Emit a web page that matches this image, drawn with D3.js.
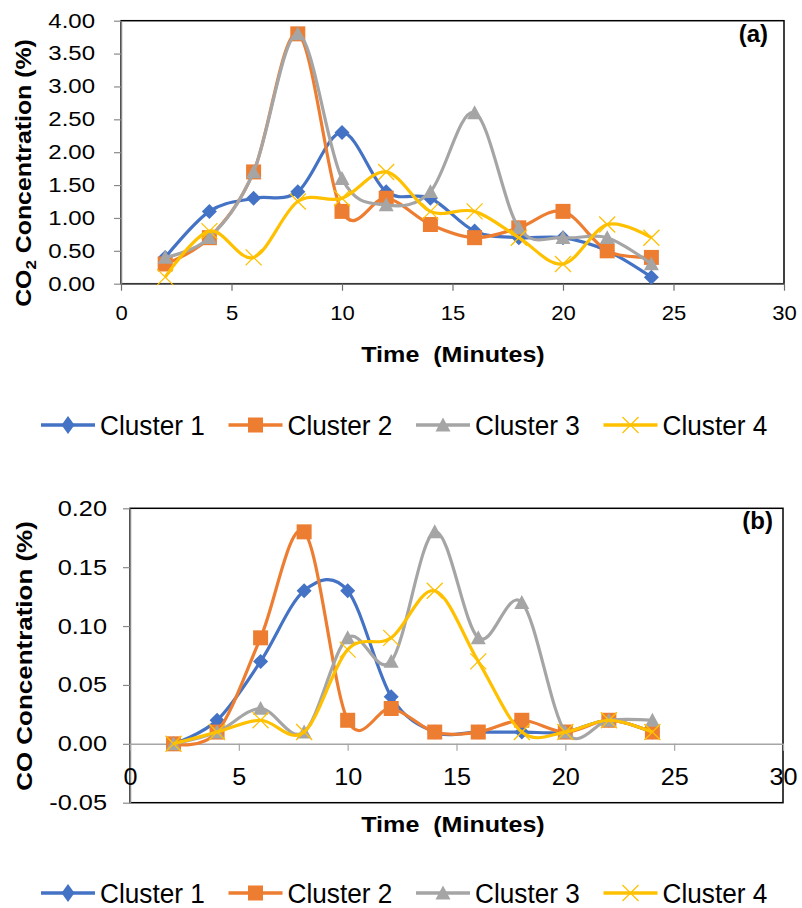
<!DOCTYPE html>
<html>
<head>
<meta charset="utf-8">
<script src="https://cdn.jsdelivr.net/npm/d3@7"></script>
<style>
  body { margin: 0; background: #fff; }
  text { font-family: "Liberation Sans", Arial, sans-serif; }
</style>
</head>
<body>
<div id="chart"></div>
<script>
// values
const times = [2, 4, 6, 8, 10, 12, 14, 16, 18, 20, 22, 24];
const clusterNames = ["Cluster 1", "Cluster 2", "Cluster 3", "Cluster 4"];

const co2Cluster1 = [0.4, 1.1, 1.3, 1.4, 2.3, 1.4, 1.3, 0.8, 0.7, 0.7, 0.5, 0.1];
const co2Cluster2 = [0.3, 0.7, 1.7, 3.8, 1.1, 1.3, 0.9, 0.7, 0.85, 1.1, 0.5, 0.4];
const co2Cluster3 = [0.4, 0.7, 1.7, 3.8, 1.6, 1.2, 1.4, 2.6, 0.85, 0.7, 0.7, 0.3];
const co2Cluster4 = [0.1, 0.8, 0.4, 1.25, 1.3, 1.7, 1.1, 1.1, 0.7, 0.3, 0.9, 0.7];

const coCluster1 = [0, 0.02, 0.07, 0.13, 0.13, 0.04, 0.01, 0.01, 0.01, 0.01, 0.02, 0.01];
const coCluster2 = [0, 0.01, 0.09, 0.18, 0.02, 0.03, 0.01, 0.01, 0.02, 0.01, 0.02, 0.01];
const coCluster3 = [0, 0.01, 0.03, 0.01, 0.09, 0.07, 0.18, 0.09, 0.12, 0.01, 0.02, 0.02];
const coCluster4 = [0, 0.01, 0.02, 0.01, 0.08, 0.09, 0.13, 0.07, 0.01, 0.01, 0.02, 0.01];

const timeTicks = [0, 5, 10, 15, 20, 25, 30];
const co2Ticks = [0, 0.5, 1, 1.5, 2, 2.5, 3, 3.5, 4];
const coTicks = [-0.05, 0, 0.05, 0.1, 0.15, 0.2];

const colors = ["#4472C4", "#ED7D31", "#A5A5A5", "#FFC000"];
const markers = ["diamond", "square", "triangle", "x"];

const svg = d3.select("#chart").append("svg")
    .attr("width", 802)
    .attr("height", 908);

// stretch text horizontally like the picture does
function stretch(sel, sx) {
    sel.each(function () {
        const w = this.getComputedTextLength();
        this.setAttribute("textLength", w * sx);
        this.setAttribute("lengthAdjust", "spacingAndGlyphs");
    });
}

function markerPath(kind, s, hy) {
    hy = hy || s;
    if (kind === "diamond") return `M0,${-hy}L${s},0L0,${hy}L${-s},0Z`;
    if (kind === "square") return `M${-s},${-s}H${s}V${s}H${-s}Z`;
    if (kind === "triangle") return `M0,${-s}L${s},${s * 0.85}L${-s},${s * 0.85}Z`;
    return `M${-s},${-s}L${s},${s}M${s},${-s}L${-s},${s}`;
}

function drawMarker(g, kind, color, s, hy) {
    const p = g.append("path").attr("d", markerPath(kind, s, hy));
    if (kind === "x") p.attr("fill", "none").attr("stroke", color).attr("stroke-width", 1.3);
    else p.attr("fill", color);
    return p;
}

function drawPanel(opt) {
    const x = d3.scaleLinear().domain([0, 30]).range([opt.left, opt.right]);
    const y = d3.scaleLinear().domain(opt.yDomain).range([opt.bottom, opt.top]);

    // plot area border
    svg.append("rect")
        .attr("x", opt.left).attr("y", opt.top)
        .attr("width", opt.right - opt.left).attr("height", opt.bottom - opt.top)
        .attr("fill", "none").attr("stroke", "#000").attr("stroke-width", 1.5);

    const yAxis = svg.append("g")
        .attr("transform", `translate(${opt.left},0)`)
        .call(d3.axisLeft(y).tickValues(opt.yTicks).tickFormat(d => d.toFixed(2))
            .tickSize(7).tickSizeOuter(0).tickPadding(opt.yPad));
    yAxis.attr("font-family", null).attr("font-size", opt.yFont);
    yAxis.select(".domain").attr("stroke", "#8a8a8a").attr("stroke-width", 1.5);
    yAxis.selectAll(".tick line").attr("stroke", "#8a8a8a").attr("stroke-width", 1.2);
    yAxis.selectAll(".tick text").attr("fill", "#000").call(stretch, opt.ySx);

    const xAxis = svg.append("g")
        .attr("transform", `translate(0,${y(0)})`)
        .call(d3.axisBottom(x).tickValues(timeTicks).tickSize(7).tickSizeOuter(0).tickPadding(opt.xPad));
    xAxis.attr("font-family", null).attr("font-size", opt.xFont);
    xAxis.select(".domain").attr("stroke", opt.xAxisColor).attr("stroke-width", 1.6);
    xAxis.selectAll(".tick line").attr("stroke", opt.xAxisColor).attr("stroke-width", 1.2);
    xAxis.selectAll(".tick text").attr("fill", "#000").call(stretch, opt.xSx);

    const line = d3.line()
        .x((d, i) => x(times[i]))
        .y(d => y(d))
        .curve(d3.curveCardinal.tension(0));

    opt.series.forEach((vals, k) => {
        svg.append("path")
            .attr("d", line(vals))
            .attr("fill", "none")
            .attr("stroke", colors[k])
            .attr("stroke-width", 3.2)
            .attr("stroke-linejoin", "round");
        vals.forEach((v, i) => {
            const g = svg.append("g").attr("transform", `translate(${x(times[i])},${y(v)})`);
            drawMarker(g, markers[k], colors[k], markers[k] === "x" ? 8 : 7.5);
        });
    });

    // panel label
    svg.append("text")
        .attr("x", opt.labelX).attr("y", opt.labelY)
        .attr("text-anchor", "end")
        .attr("font-size", 24).attr("font-weight", "bold")
        .text(opt.label);

    // x title
    svg.append("text")
        .attr("x", 453).attr("y", opt.xTitleY)
        .attr("text-anchor", "middle")
        .attr("font-size", 22).attr("font-weight", "bold")
        .text("Time\u00a0 (Minutes)")
        .call(stretch, 1.14);

    // y title
    const yt = svg.append("text")
        .attr("transform", `translate(${opt.yTitleX},${opt.yTitleY}) rotate(-90)`)
        .attr("text-anchor", "middle")
        .attr("font-size", 22).attr("font-weight", "bold");
    opt.yTitle(yt);
    yt.call(stretch, opt.yTitleSx);

    // legend
    const lg = svg.append("g").attr("transform", `translate(0,${opt.legendY})`);
    clusterNames.forEach((name, k) => {
        const x0 = 41 + k * 187.5;
        lg.append("line")
            .attr("x1", x0).attr("x2", x0 + 54)
            .attr("stroke", colors[k]).attr("stroke-width", 3.5);
        const m = lg.append("g").attr("transform", `translate(${x0 + 27},0)`);
        if (markers[k] === "diamond") drawMarker(m, "diamond", colors[k], 6.5, 9);
        else drawMarker(m, markers[k], colors[k], markers[k] === "x" ? 8 : 7.5);
        lg.append("text")
            .attr("x", x0 + 59).attr("y", 10)
            .attr("font-size", 27)
            .text(name)
            .call(stretch, 0.97);
    });
}

drawPanel({
    left: 121, right: 784, top: 20.7, bottom: 283.7,
    yDomain: [0, 4], yTicks: co2Ticks,
    yFont: 20, ySx: 1.2, yPad: 19,
    xFont: 21, xSx: 1.05, xPad: 14,
    xAxisColor: "#6e6e6e",
    series: [co2Cluster1, co2Cluster2, co2Cluster3, co2Cluster4],
    label: "(a)", labelX: 768, labelY: 42,
    xTitleY: 362,
    yTitleX: 31, yTitleY: 173, yTitleSx: 1.13,
    yTitle: t => {
        t.append("tspan").text("CO");
        t.append("tspan").attr("font-size", 15).attr("dy", 5).text("2");
        t.append("tspan").attr("dy", -5).text(" Concentration (%)");
    },
    legendY: 425
});

drawPanel({
    left: 130, right: 783, top: 508.3, bottom: 802.7,
    yDomain: [-0.05, 0.2], yTicks: coTicks,
    yFont: 22, ySx: 1.15, yPad: 16,
    xFont: 24, xSx: 1.05, xPad: 17,
    xAxisColor: "#a6a6a6",
    series: [coCluster1, coCluster2, coCluster3, coCluster4],
    label: "(b)", labelX: 773, labelY: 529,
    xTitleY: 832,
    yTitleX: 32, yTitleY: 656, yTitleSx: 1.18,
    yTitle: t => t.text("CO Concentration (%)"),
    legendY: 893
});
</script>
</body>
</html>
